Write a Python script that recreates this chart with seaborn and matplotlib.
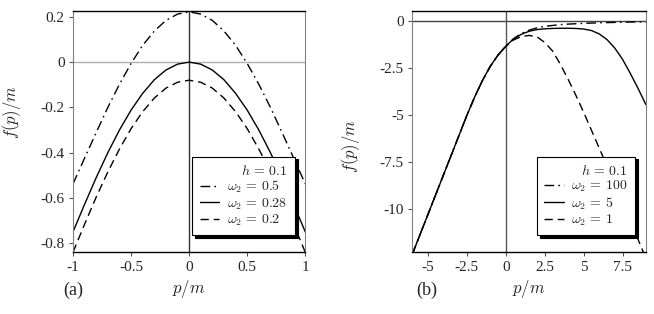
import numpy as np
import pandas as pd
import matplotlib
matplotlib.use("Agg")
import matplotlib.pyplot as plt
from matplotlib.lines import Line2D
import seaborn as sns

# panel (a): p/m and f(p)/m for h = 0.1
p_a = [-1.0, -0.9, -0.8, -0.7, -0.6, -0.5, -0.4, -0.3, -0.2, -0.1, 0.0,
       0.1, 0.2, 0.3, 0.4, 0.5, 0.6, 0.7, 0.8, 0.9, 1.0]
f_a_05 = [-0.538, -0.424, -0.311, -0.200, -0.098, -0.006, 0.074, 0.137, 0.184, 0.212, 0.222,
          0.212, 0.184, 0.137, 0.074, -0.006, -0.098, -0.200, -0.311, -0.424, -0.538]
f_a_028 = [-0.750, -0.628, -0.510, -0.400, -0.300, -0.212, -0.138, -0.078, -0.035, -0.009, 0.0,
           -0.009, -0.035, -0.078, -0.138, -0.212, -0.300, -0.400, -0.510, -0.628, -0.750]
f_a_02 = [-0.840, -0.716, -0.596, -0.485, -0.384, -0.294, -0.219, -0.159, -0.115, -0.089, -0.080,
          -0.089, -0.115, -0.159, -0.219, -0.294, -0.384, -0.485, -0.596, -0.716, -0.840]

# panel (b)
p_b = [-6.0, -5.5, -5.0, -4.5, -4.0, -3.5, -3.0, -2.5, -2.0, -1.5, -1.0, -0.5, 0.0,
       0.5, 1.0, 1.5, 2.0, 2.5, 3.0, 3.5, 4.0, 4.5, 5.0, 5.5, 6.0, 6.5, 7.0, 7.5, 8.0, 8.5, 9.0]
left_b = [-12.375, -11.325, -10.275, -9.225, -8.175, -7.125, -6.075, -5.025, -4.05,
          -3.175, -2.425, -1.825]
f_b_100 = left_b + [-1.35, -0.95, -0.68, -0.50, -0.38, -0.30, -0.25, -0.21, -0.18, -0.16,
                    -0.14, -0.125, -0.11, -0.10, -0.09, -0.08, -0.07, -0.065, -0.06]
f_b_5 = left_b + [-1.35, -0.97, -0.72, -0.56, -0.47, -0.43, -0.41, -0.40, -0.40, -0.41,
                  -0.44, -0.52, -0.70, -1.00, -1.45, -2.05, -2.80, -3.60, -4.45]
f_b_1 = left_b + [-1.37, -1.02, -0.84, -0.78, -0.85, -1.15, -1.60, -2.30, -3.10, -3.95,
                  -4.85, -5.80, -6.75, -7.70, -8.65, -9.60, -10.60, -11.60, -12.60]

xt_a = [-1, -0.5, 0, 0.5, 1]
yt_a = [0.2, 0, -0.2, -0.4, -0.6, -0.8]
xt_b = [-5, -2.5, 0, 2.5, 5, 7.5]
yt_b = [0, -2.5, -5, -7.5, -10]

sns.set_style("ticks")
plt.rcParams["font.family"] = ["Liberation Serif", "DejaVu Serif"]
plt.rcParams["mathtext.fontset"] = "cm"
plt.rcParams["axes.unicode_minus"] = False

fig = plt.figure(figsize=(6.54, 3.14), dpi=100)
ax_a = fig.add_axes([0.1116, 0.1965, 0.3552, 0.7694])
ax_b = fig.add_axes([0.6304, 0.1965, 0.3573, 0.7694])

styles = {"dashdot": (0, (7, 3, 1.2, 3)), "solid": "-", "dashed": (0, (6, 3.5))}


def draw(ax, p, series, legend_labels):
    handles = []
    for (vals, ls), lab in zip(series, legend_labels):
        df = pd.DataFrame({"p": p, "f": vals})
        sns.lineplot(data=df, x="p", y="f", ax=ax, color="black", lw=1.0,
                     linestyle=styles[ls], sort=True, errorbar=None)
        handles.append(Line2D([], [], color="black", lw=1.0, linestyle=styles[ls], label=lab))
    return handles


h_a = draw(ax_a, p_a, [(f_a_05, "dashdot"), (f_a_028, "solid"), (f_a_02, "dashed")],
           [r"$\omega_2\,=\,0.5$", r"$\omega_2\,=\,0.28$", r"$\omega_2\,=\,0.2$"])
h_b = draw(ax_b, p_b, [(f_b_100, "dashdot"), (f_b_5, "solid"), (f_b_1, "dashed")],
           [r"$\omega_2\,=\,100$", r"$\omega_2\,=\,5$", r"$\omega_2\,=\,1$"])

ax_a.axhline(0, color="#b0b0b0", lw=1.0, zorder=0)
ax_a.axvline(0, color="#333333", lw=1.0, zorder=0)
ax_b.axhline(0, color="#444444", lw=1.0, zorder=0)
ax_b.axvline(0, color="#555555", lw=1.0, zorder=0)

ax_a.set_xlim(-1, 1)
ax_a.set_ylim(-0.84, 0.227)
ax_b.set_xlim(-6, 9)
ax_b.set_ylim(-12.27, 0.53)

ax_a.set_xticks(xt_a, ["-1", "-0.5", "0", "0.5", "1"])
ax_a.set_yticks(yt_a, ["0.2", "0", "-0.2", "-0.4", "-0.6", "-0.8"])
ax_b.set_xticks(xt_b, ["-5", "-2.5", "0", "2.5", "5", "7.5"])
ax_b.set_yticks(yt_b, ["0", "-2.5", "-5", "-7.5", "-10"])

for ax, hs, ylab_y in [(ax_a, h_a, 0.58), (ax_b, h_b, 0.44)]:
    for s in ["left", "right"]:
        ax.spines[s].set_color("#808080")
        ax.spines[s].set_linewidth(0.8)
    for s in ["top", "bottom"]:
        ax.spines[s].set_color("black")
        ax.spines[s].set_linewidth(1.0)
    ax.tick_params(direction="out", length=3, width=0.8, color="#555555",
                   labelsize=11, pad=3)
    ax.set_xlabel(r"$p/m$", fontsize=12)
    ax.set_ylabel(r"$f(p)/m$", fontsize=12)
    ax.xaxis.set_label_coords(0.5, -0.105)
    ax.yaxis.set_label_coords(-0.215, ylab_y)
    leg = ax.legend(handles=hs, title=r"$h\,=\,0.1$", alignment="right",
                    loc="lower right", bbox_to_anchor=(0.955, 0.07),
                    fontsize=10, title_fontsize=10, frameon=True, fancybox=False,
                    shadow={"color": "black", "alpha": 1.0},
                    handlelength=1.4, labelspacing=0.06, borderpad=0.55,
                    handletextpad=0.55, borderaxespad=0)
    leg.get_frame().set_edgecolor("black")
    leg.get_frame().set_linewidth(0.8)
    leg.get_frame().set_facecolor("white")
    leg.get_frame().set_alpha(1.0)

fig.text(0.112, 0.076, "(a)", fontsize=13, ha="center", va="center")
fig.text(0.653, 0.076, "(b)", fontsize=13, ha="center", va="center")

fig.savefig("out.png", dpi=100)
